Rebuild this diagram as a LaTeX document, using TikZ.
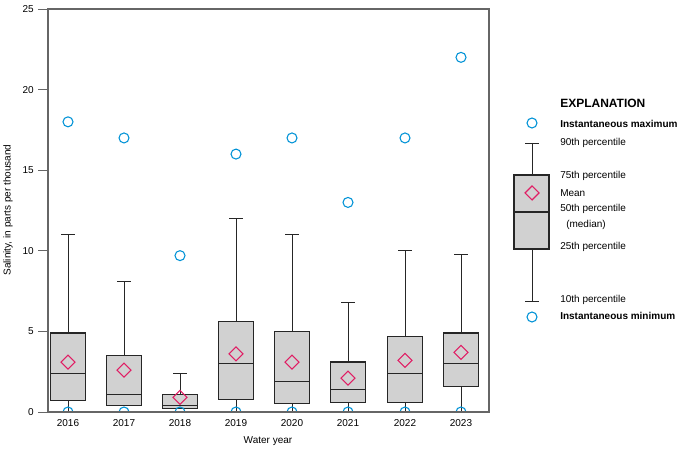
\documentclass[tikz,border=0pt]{standalone}
\usepackage{fontspec}
\setmainfont{Liberation Sans}
\begin{document}
\begin{tikzpicture}[x=0.75pt,y=-0.75pt,
  lab/.style={font=\fontsize{7.5}{9}\selectfont,inner sep=0pt},
  bold/.style={lab,font=\fontsize{7.5}{9}\selectfont\bfseries},
  bx/.style={draw=black!85,fill=black!18,line width=0.8pt},
  wh/.style={draw=black!85,line width=0.6pt},
  mx/.style={draw={rgb,255:red,0;green,146;blue,214},line width=0.8pt},
  mn/.style={draw={rgb,255:red,224;green,30;blue,100},line width=0.8pt}]
\useasboundingbox (0,0) rectangle (683,452);
\def\Y#1{412-16.12*#1}
% axes frame
\draw[black!60,line width=0.8pt] (48,9) rectangle (489,412);
\foreach \v in {0,5,...,25}{
  \draw[black!60,line width=0.6pt] (38,{\Y{\v}}) -- (48,{\Y{\v}});
  \node[lab,anchor=east] at (34,{\Y{\v}}) {\v};}
\node[lab,rotate=90] at (8,210) {Salinity, in parts per thousand};
\node[lab] at (268,441) {Water year};
\begin{scope}
\clip (48,9) rectangle (489,412);
\foreach \x/\yr/\mxv/\pn/\ps/\md/\pt/\pa/\mean in {
 68/2016/18/11/4.9/2.4/0.7/0.05/3.1,
 124/2017/17/8.1/3.5/1.1/0.4/0.4/2.6,
 180/2018/9.7/2.4/1.1/0.4/0.2/0.2/0.9,
 236/2019/16/12/5.6/3.0/0.8/0.05/3.6,
 292/2020/17/11/5.0/1.9/0.5/0.05/3.1,
 348/2021/13/6.8/3.1/1.4/0.6/0.05/2.1,
 405/2022/17/10/4.7/2.4/0.6/0.05/3.2,
 461/2023/22/9.8/4.9/3.0/1.6/0.05/3.7}{
  \draw[wh] (\x,{\Y{\pn}}) -- (\x,{\Y{\ps}});
  \draw[wh] (\x-7,{\Y{\pn}}) -- (\x+7,{\Y{\pn}});
  \draw[wh] (\x,{\Y{\pt}}) -- (\x,{\Y{\pa}});
  \draw[wh] (\x-7,{\Y{\pa}}) -- (\x+7,{\Y{\pa}});
  \draw[bx] (\x-17.5,{\Y{\ps}}) rectangle (\x+17.5,{\Y{\pt}});
  \draw[wh,line width=0.8pt] (\x-17.5,{\Y{\md}}) -- (\x+17.5,{\Y{\md}});
  \draw[mn] (\x,{\Y{\mean}-7}) -- (\x+7,{\Y{\mean}}) -- (\x,{\Y{\mean}+7}) -- (\x-7,{\Y{\mean}}) -- cycle;
  \draw[mx] (\x,{\Y{\mxv}}) circle[radius=5];
  \draw[mx] (\x,412) circle[radius=5];
}
\end{scope}
\draw[black!60,line width=0.8pt] (48,412) -- (489,412);
\foreach \x/\yr in {68/2016,124/2017,180/2018,236/2019,292/2020,348/2021,405/2022,461/2023}
  \node[lab] at (\x,423) {\yr};
% legend
\draw[mx] (532,123) circle[radius=5];
\draw[wh] (532,143) -- (532,175); \draw[wh] (525,143) -- (539,143);
\draw[wh] (532,249) -- (532,301); \draw[wh] (525,301) -- (539,301);
\draw[bx] (514,175) rectangle (549,249);
\draw[wh,line width=0.8pt] (514,212) -- (549,212);
\draw[mn] (532,186) -- (539,193) -- (532,200) -- (525,193) -- cycle;
\draw[mx] (532,317) circle[radius=5];
\node[bold,anchor=west,font=\fontsize{9}{10}\selectfont\bfseries] at (560,103) {EXPLANATION};
\node[bold,anchor=west] at (560,124) {Instantaneous maximum};
\node[lab,anchor=west] at (560,143) {90th percentile};
\node[lab,anchor=west] at (560,176) {75th percentile};
\node[lab,anchor=west] at (560,193) {Mean};
\node[lab,anchor=west] at (560,209) {50th percentile};
\node[lab,anchor=west] at (566,225) {(median)};
\node[lab,anchor=west] at (560,247) {25th percentile};
\node[lab,anchor=west] at (560,300) {10th percentile};
\node[bold,anchor=west] at (560,316) {Instantaneous minimum};
\end{tikzpicture}
\end{document}
